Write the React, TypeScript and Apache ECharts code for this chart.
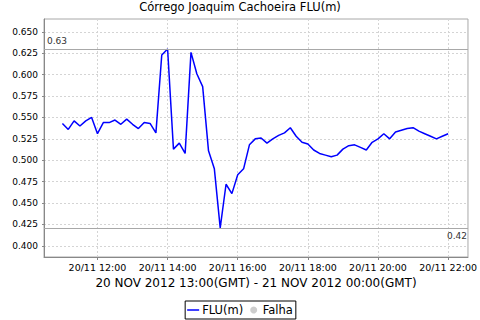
import React, { useEffect, useRef } from "react";
import * as echarts from "echarts";

const TITLE = "Córrego Joaquim Cachoeira FLU(m)";
const X_NAME = "20 NOV 2012 13:00(GMT) - 21 NOV 2012 00:00(GMT)";
const SERIES_NAME = "FLU(m)";
const FAIL_NAME = "Falha";

// first sample: 20 Nov 2012 11:00 (axis clock), one sample every 10 minutes
const START_TIME = Date.UTC(2012, 10, 20, 11, 0);
const STEP_MS = 10 * 60 * 1000;
const X_MIN = Date.UTC(2012, 10, 20, 10, 28, 30);
const X_MAX = Date.UTC(2012, 10, 20, 22, 34, 0);
const X_TICK_MS = 2 * 3600 * 1000;

const Y_MIN = 0.387;
const Y_MAX = 0.665;
const Y_TICK = 0.025;

const levels: number[] = [
  0.543, 0.536, 0.546, 0.54, 0.546, 0.55, 0.531, 0.544, 0.544, 0.547,
  0.542, 0.548, 0.542, 0.537, 0.544, 0.543, 0.532, 0.623, 0.63, 0.513,
  0.52, 0.508, 0.626, 0.601, 0.586, 0.511, 0.49, 0.421, 0.472, 0.461,
  0.483, 0.49, 0.518, 0.525, 0.526, 0.52, 0.525, 0.529, 0.532, 0.538,
  0.528, 0.521, 0.519, 0.512, 0.508, 0.506, 0.504, 0.506, 0.513, 0.517,
  0.518, 0.515, 0.512, 0.521, 0.525, 0.531, 0.525, 0.533, 0.535, 0.537,
  0.538, 0.534, 0.531, 0.528, 0.525, 0.528, 0.531,
];

const pad = (n: number) => (n < 10 ? "0" + n : "" + n);

export default function App() {
  const ref = useRef<HTMLDivElement>(null);
  useEffect(() => {
    if (!ref.current) return;
    const chart = echarts.init(ref.current, undefined, { renderer: "svg" });
    const data = levels.map((v, i) => [START_TIME + i * STEP_MS, v]);
    const font = "DejaVu Sans";
    chart.setOption({
      animation: false,
      backgroundColor: "#ffffff",
      title: {
        text: TITLE,
        left: "center",
        top: 0,
        padding: [1, 0, 0, 0],
        textStyle: { fontFamily: font, fontSize: 11.5, fontWeight: "normal", color: "#000" },
      },
      grid: {
        left: 44,
        right: 8,
        top: 19,
        bottom: 63,
        show: true,
        borderColor: "#a8a8a8",
        borderWidth: 1,
      },
      legend: {
        bottom: 1,
        left: "center",
        data: [
          { name: SERIES_NAME, icon: "path://M0,0h24v3H0z", itemStyle: { color: "#0000ff" } },
          { name: FAIL_NAME, icon: "circle", itemStyle: { color: "#c0c0c0" } },
        ],
        itemWidth: 12,
        itemHeight: 7,
        itemGap: 7,
        padding: [3, 3, 3, 2],
        borderColor: "#000",
        borderWidth: 1,
        borderRadius: 0,
        textStyle: { fontFamily: font, fontSize: 11.5, color: "#000", padding: [0, 0, 0, -2] },
      },
      xAxis: {
        type: "value",
        min: X_MIN,
        max: X_MAX,
        minInterval: X_TICK_MS,
        maxInterval: X_TICK_MS,
        name: X_NAME,
        nameLocation: "middle",
        nameGap: 20,
        nameTextStyle: { fontFamily: font, fontSize: 12, color: "#000" },
        axisLine: { show: true, lineStyle: { color: "#888", width: 1 } },
        axisTick: { show: true, length: 3, lineStyle: { color: "#888" } },
        axisLabel: {
          fontFamily: font,
          fontSize: 9.5,
          color: "#000",
          margin: 5,
          showMinLabel: false,
          showMaxLabel: false,
          formatter: (v: number) => {
            if (Math.abs(v % X_TICK_MS) > 1000) return "";
            const d = new Date(v);
            return `${pad(d.getUTCDate())}/${pad(d.getUTCMonth() + 1)} ${pad(d.getUTCHours())}:${pad(d.getUTCMinutes())}`;
          },
        },
        splitLine: {
          show: true,
          showMinLine: false,
          showMaxLine: false,
          lineStyle: { color: "#d4d4d4", type: [2, 2], width: 1 },
        },
      },
      yAxis: {
        type: "value",
        min: Y_MIN,
        max: Y_MAX,
        minInterval: Y_TICK,
        maxInterval: Y_TICK,
        axisLine: { show: true, lineStyle: { color: "#888", width: 1 } },
        axisTick: { show: true, length: 2, lineStyle: { color: "#888" } },
        axisLabel: {
          fontFamily: font,
          fontSize: 9,
          color: "#000",
          margin: 6,
          showMinLabel: false,
          showMaxLabel: false,
          formatter: (v: number) => {
            const k = v / Y_TICK;
            if (Math.abs(k - Math.round(k)) > 1e-6) return "";
            return v.toFixed(3);
          },
        },
        splitLine: {
          show: true,
          showMinLine: false,
          showMaxLine: false,
          lineStyle: { color: "#d4d4d4", type: [2, 2], width: 1 },
        },
      },
      series: [
        {
          name: SERIES_NAME,
          type: "line",
          data,
          symbol: "none",
          showSymbol: false,
          color: "#0000ff",
          lineStyle: { color: "#0000ff", width: 1.5 },
          markLine: {
            silent: true,
            symbol: ["none", "none"],
            lineStyle: { color: "#a8a8a8", type: "solid", width: 1 },
            label: {
              fontFamily: font,
              fontSize: 9,
              color: "#333",
              formatter: (p: any) => Number(p.value).toFixed(2),
            },
            data: [
              { type: "max", label: { position: "insideStartTop", distance: [3, 3] } },
              { type: "min", label: { position: "insideEndBottom", distance: [1, 3] } },
            ],
          },
        },
        {
          name: FAIL_NAME,
          type: "scatter",
          data: [],
          color: "#c0c0c0",
        },
      ],
    });
    return () => chart.dispose();
  }, []);
  return (
    <div
      ref={ref}
      style={{ position: "fixed", left: 0, top: 0, width: 480, height: 320 }}
    />
  );
}
